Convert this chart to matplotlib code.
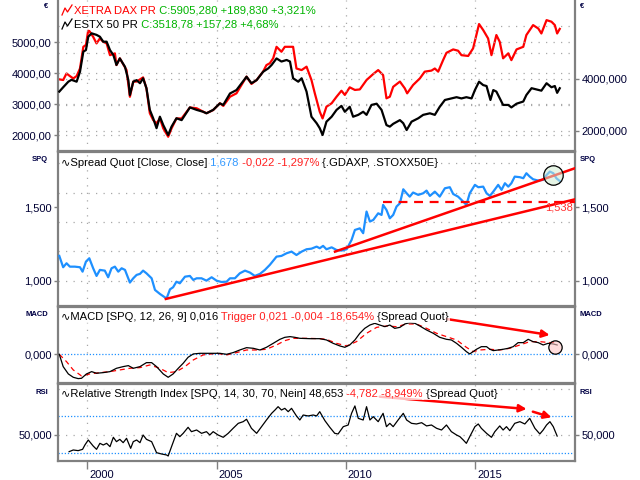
import matplotlib
matplotlib.use('Agg')
import matplotlib.pyplot as plt
from matplotlib.lines import Line2D
from matplotlib.ticker import FixedLocator, FuncFormatter
from matplotlib.transforms import ScaledTranslation

plt.rcParams['font.family'] = ['Liberation Sans', 'DejaVu Sans']
plt.rcParams['font.size'] = 8

# ---- data (x in decimal years) ----
estx_x = [1998.92, 1999.07, 1999.27, 1999.39, 1999.59, 1999.72, 1999.85, 1999.95, 2000.04, 2000.17,
          2000.36, 2000.49, 2000.62, 2000.75, 2000.88, 2001.01, 2001.13, 2001.26, 2001.46, 2001.59,
          2001.65, 2001.78, 2001.91, 2002.04, 2002.16, 2002.29, 2002.42, 2002.55, 2002.68, 2002.81,
          2002.94, 2003.13, 2003.26, 2003.45, 2003.65, 2003.97, 2004.23, 2004.48, 2004.61, 2004.87,
          2005.13, 2005.26, 2005.52, 2005.77, 2006.16, 2006.35, 2006.55, 2006.80, 2007.00, 2007.13,
          2007.32, 2007.51, 2007.71, 2007.84, 2007.96, 2008.16, 2008.29, 2008.48, 2008.67, 2008.87,
          2008.99, 2009.10, 2009.25, 2009.45, 2009.64, 2009.83, 2009.96, 2010.15, 2010.28, 2010.48,
          2010.67, 2010.80, 2010.99, 2011.19, 2011.38, 2011.57, 2011.70, 2011.83, 2012.09, 2012.22,
          2012.35, 2012.54, 2012.80, 2012.99, 2013.25, 2013.44, 2013.63, 2013.83, 2014.08, 2014.28,
          2014.47, 2014.66, 2014.86, 2014.99, 2015.15, 2015.31, 2015.44, 2015.59, 2015.70, 2015.82,
          2016.08, 2016.28, 2016.40, 2016.60, 2016.86, 2016.98, 2017.18, 2017.37, 2017.56, 2017.76,
          2017.95, 2018.08, 2018.17, 2018.27]
estx_y = [3410, 3550, 3730, 3790, 3730, 4050, 4700, 4750, 5180, 5290,
          5240, 5180, 5020, 5020, 4750, 4590, 4270, 4480, 4210, 3780,
          3300, 3730, 3780, 3680, 3840, 3520, 2820, 2550, 2230, 2600,
          2330, 2010, 2280, 2550, 2490, 2900, 2820, 2760, 2710, 2820,
          3030, 2980, 3350, 3460, 3890, 3680, 3780, 4050, 4160, 4270,
          4480, 4380, 4430, 4380, 3840, 3730, 3840, 3410, 2600, 2390,
          2230, 2010, 2440, 2600, 2820, 2950, 2760, 2920, 2600, 2660,
          2760, 2660, 2980, 3020, 2820, 2330, 2280, 2370, 2490, 2390,
          2170, 2440, 2550, 2660, 2710, 2660, 2920, 3140, 3190, 3230,
          3190, 3230, 3190, 3460, 3730, 3620, 3590, 3140, 3460, 3410,
          2980, 2980, 2900, 3020, 3090, 3300, 3520, 3480, 3440, 3680,
          3550, 3590, 3370, 3519]

dax_x = [1998.92, 1999.07, 1999.20, 1999.33, 1999.46, 1999.59, 1999.72, 1999.85, 1999.95, 2000.04,
         2000.10, 2000.23, 2000.36, 2000.49, 2000.62, 2000.75, 2000.88, 2001.07, 2001.13, 2001.26,
         2001.52, 2001.65, 2001.78, 2001.91, 2002.16, 2002.29, 2002.42, 2002.55, 2002.68, 2002.81,
         2002.94, 2003.13, 2003.26, 2003.45, 2003.65, 2003.97, 2004.23, 2004.48, 2004.61, 2004.87,
         2005.13, 2005.26, 2005.52, 2005.77, 2006.16, 2006.35, 2006.55, 2006.80, 2006.93, 2007.06,
         2007.19, 2007.32, 2007.51, 2007.64, 2007.84, 2007.96, 2008.09, 2008.29, 2008.48, 2008.67,
         2008.80, 2008.99, 2009.10, 2009.25, 2009.45, 2009.64, 2009.83, 2009.96, 2010.15, 2010.35,
         2010.54, 2010.80, 2011.06, 2011.25, 2011.44, 2011.57, 2011.70, 2011.83, 2012.09, 2012.28,
         2012.37, 2012.60, 2012.86, 2013.05, 2013.31, 2013.44, 2013.57, 2013.76, 2013.89, 2014.15,
         2014.34, 2014.47, 2014.73, 2014.92, 2015.15, 2015.31, 2015.50, 2015.63, 2015.82, 2015.95,
         2016.08, 2016.28, 2016.40, 2016.60, 2016.86, 2016.98, 2017.24, 2017.44, 2017.56, 2017.76,
         2017.95, 2018.08, 2018.17, 2018.27]
dax_y = [3975, 3950, 4200, 4100, 4010, 4100, 4390, 5220, 5290, 5860,
         5800, 5600, 5350, 5540, 5410, 5350, 4900, 4970, 4520, 4780,
         4330, 3310, 3890, 3890, 4050, 3630, 2680, 2420, 2290, 2480,
         2100, 1780, 2100, 2480, 2480, 2900, 2870, 2740, 2680, 2800,
         3060, 2960, 3310, 3440, 4080, 3800, 3950, 4270, 4520, 4590,
         4780, 5220, 5030, 5220, 5220, 5220, 4390, 4330, 4460, 3950,
         3440, 2740, 2480, 2930, 3060, 3310, 3540, 3380, 3670, 3570,
         3590, 3950, 4180, 4330, 4140, 3250, 3310, 3690, 3890, 3630,
         3440, 3760, 4010, 4270, 4310, 4390, 4270, 4710, 4990, 5120,
         5070, 4900, 4870, 5160, 6090, 5860, 5540, 4900, 5670, 5410,
         4780, 4970, 4710, 5120, 5220, 5670, 6050, 5920, 5730, 6240,
         6180, 6050, 5730, 5905]

spq_x = [1998.92, 1999.07, 1999.20, 1999.33, 1999.52, 1999.72, 1999.82, 1999.95, 2000.08, 2000.23,
         2000.36, 2000.49, 2000.68, 2000.81, 2000.94, 2001.07, 2001.20, 2001.33, 2001.46, 2001.65,
         2001.78, 2001.91, 2002.04, 2002.16, 2002.29, 2002.49, 2002.62, 2002.81, 2003.00, 2003.07,
         2003.20, 2003.32, 2003.45, 2003.58, 2003.78, 2003.97, 2004.10, 2004.23, 2004.42, 2004.61,
         2004.81, 2005.00, 2005.19, 2005.39, 2005.52, 2005.71, 2005.90, 2006.10, 2006.29, 2006.48,
         2006.68, 2006.87, 2007.06, 2007.32, 2007.51, 2007.71, 2007.90, 2008.09, 2008.29, 2008.48,
         2008.67, 2008.87, 2008.99, 2009.12, 2009.25, 2009.45, 2009.64, 2009.83, 2010.03, 2010.22,
         2010.35, 2010.54, 2010.67, 2010.80, 2010.93, 2011.06, 2011.25, 2011.38, 2011.44, 2011.57,
         2011.70, 2011.83, 2011.96, 2012.09, 2012.22, 2012.35, 2012.47, 2012.60, 2012.80, 2012.99,
         2013.12, 2013.25, 2013.44, 2013.63, 2013.83, 2014.02, 2014.15, 2014.34, 2014.47, 2014.60,
         2014.66, 2014.79, 2014.99, 2015.12, 2015.31, 2015.44, 2015.57, 2015.70, 2015.89, 2016.02,
         2016.15, 2016.28, 2016.40, 2016.53, 2016.73, 2016.86, 2016.98, 2017.11, 2017.24, 2017.44,
         2017.63, 2017.76, 2017.89, 2018.02, 2018.14, 2018.27]
spq_y = [1.170, 1.093, 1.120, 1.097, 1.097, 1.093, 1.063, 1.131, 1.154, 1.086,
         1.034, 1.075, 1.070, 1.025, 1.086, 1.097, 1.063, 1.086, 1.075, 0.989,
         1.018, 1.041, 1.048, 1.070, 1.052, 1.018, 0.939, 0.912, 0.889, 0.882,
         0.943, 0.957, 0.995, 0.984, 1.029, 1.034, 1.007, 1.018, 1.018, 1.002,
         1.025, 1.002, 0.993, 0.995, 1.018, 1.018, 1.052, 1.070, 1.057, 1.034,
         1.048, 1.075, 1.109, 1.165, 1.170, 1.188, 1.199, 1.176, 1.199, 1.215,
         1.219, 1.233, 1.222, 1.238, 1.215, 1.228, 1.210, 1.206, 1.215, 1.278,
         1.346, 1.357, 1.324, 1.471, 1.403, 1.414, 1.459, 1.448, 1.516, 1.482,
         1.425, 1.448, 1.505, 1.527, 1.622, 1.595, 1.572, 1.600, 1.584, 1.595,
         1.613, 1.577, 1.606, 1.572, 1.629, 1.636, 1.590, 1.572, 1.550, 1.527,
         1.516, 1.595, 1.652, 1.636, 1.640, 1.595, 1.577, 1.606, 1.652, 1.618,
         1.663, 1.640, 1.663, 1.708, 1.704, 1.697, 1.731, 1.708, 1.690, 1.681,
         1.686, 1.719, 1.742, 1.731, 1.697, 1.678]

macd_x = [1998.92, 1999.07, 1999.27, 1999.46, 1999.65, 1999.78, 1999.97, 2000.17, 2000.36, 2000.62,
          2000.88, 2001.13, 2001.39, 2001.59, 2001.78, 2002.04, 2002.29, 2002.49, 2002.68, 2002.94,
          2003.13, 2003.32, 2003.52, 2003.71, 2003.90, 2004.10, 2004.36, 2004.74, 2005.13, 2005.39,
          2005.64, 2005.90, 2006.16, 2006.42, 2006.68, 2006.93, 2007.19, 2007.45, 2007.64, 2007.84,
          2008.03, 2008.22, 2008.61, 2008.99, 2009.25, 2009.51, 2009.77, 2009.96, 2010.15, 2010.35,
          2010.54, 2010.73, 2010.93, 2011.12, 2011.31, 2011.51, 2011.70, 2011.89, 2012.09, 2012.28,
          2012.47, 2012.67, 2012.86, 2013.12, 2013.38, 2013.63, 2013.89, 2014.08, 2014.28, 2014.47,
          2014.66, 2014.79, 2014.92, 2015.05, 2015.24, 2015.44, 2015.57, 2015.70, 2015.89, 2016.08,
          2016.28, 2016.47, 2016.66, 2016.86, 2017.05, 2017.24, 2017.44, 2017.63, 2017.82, 2018.02,
          2018.17]
macd_y = [0.0, -0.0211, -0.0337, -0.0394, -0.0417, -0.0411, -0.0337, -0.0297, -0.0325, -0.0314,
          -0.0297, -0.0240, -0.0211, -0.0194, -0.0240, -0.0211, -0.0143, -0.0143, -0.0211, -0.0337,
          -0.0394, -0.0337, -0.0240, -0.0154, -0.0051, 0.0006, 0.0017, 0.0017, 0.0017, 0.0,
          0.0029, 0.0074, 0.0114, 0.0103, 0.0074, 0.0120, 0.0188, 0.0257, 0.0291, 0.0303,
          0.0291, 0.0274, 0.0268, 0.0268, 0.0246, 0.0188, 0.0143, 0.0120, 0.0160, 0.0246,
          0.0360, 0.0445, 0.0502, 0.0531, 0.0502, 0.0474, 0.0502, 0.0445, 0.0462, 0.0520,
          0.0542, 0.0531, 0.0485, 0.0417, 0.0360, 0.0291, 0.0257, 0.0246, 0.0188, 0.0120,
          0.0046, 0.0006, 0.0046, 0.0086, 0.0131, 0.0131, 0.0086, 0.0063, 0.0074, 0.0086,
          0.0103, 0.0131, 0.0200, 0.0200, 0.0257, 0.0217, 0.0200, 0.0160, 0.0188, 0.0177,
          0.0160]

trig_x = [1998.92, 1999.20, 1999.46, 1999.78, 2000.10, 2000.49, 2000.88, 2001.26, 2001.65, 2002.04,
          2002.42, 2002.81, 2003.13, 2003.45, 2003.78, 2004.10, 2004.48, 2005.00, 2005.39, 2005.77,
          2006.16, 2006.55, 2006.93, 2007.32, 2007.64, 2007.96, 2008.48, 2008.99, 2009.25, 2009.64,
          2010.03, 2010.41, 2010.80, 2011.19, 2011.57, 2011.96, 2012.35, 2012.73, 2013.12, 2013.51,
          2013.89, 2014.28, 2014.66, 2014.92, 2015.18, 2015.57, 2015.95, 2016.34, 2016.73, 2017.11,
          2017.50, 2017.89, 2018.17]
trig_y = [0.0, -0.0126, -0.0268, -0.0371, -0.0337, -0.0314, -0.0297, -0.0268, -0.0240, -0.0228,
          -0.0183, -0.0240, -0.0314, -0.0297, -0.0211, -0.0097, -0.0011, 0.0017, -0.0011, 0.0029,
          0.0074, 0.0074, 0.0086, 0.0160, 0.0234, 0.0274, 0.0274, 0.0268, 0.0257, 0.0188,
          0.0143, 0.0217, 0.0360, 0.0462, 0.0485, 0.0474, 0.0520, 0.0520, 0.0445, 0.0360,
          0.0303, 0.0246, 0.0120, 0.0046, 0.0074, 0.0086, 0.0074, 0.0103, 0.0160, 0.0217,
          0.0217, 0.0200, 0.0210]

rsi_x = [1999.30, 1999.46, 1999.65, 1999.82, 1999.91, 2000.04, 2000.23, 2000.36, 2000.49, 2000.62,
         2000.75, 2000.88, 2001.01, 2001.13, 2001.26, 2001.39, 2001.52, 2001.68, 2001.78, 2001.91,
         2002.04, 2002.16, 2002.29, 2002.49, 2002.68, 2002.87, 2003.07, 2003.13, 2003.26, 2003.45,
         2003.58, 2003.71, 2003.90, 2004.03, 2004.23, 2004.42, 2004.61, 2004.74, 2004.87, 2005.06,
         2005.26, 2005.45, 2005.64, 2005.84, 2006.03, 2006.16, 2006.35, 2006.55, 2006.74, 2006.93,
         2007.13, 2007.26, 2007.38, 2007.51, 2007.64, 2007.77, 2007.90, 2008.09, 2008.22, 2008.35,
         2008.54, 2008.74, 2008.87, 2008.99, 2009.19, 2009.38, 2009.57, 2009.70, 2009.90, 2010.09,
         2010.22, 2010.35, 2010.48, 2010.67, 2010.80, 2010.93, 2011.06, 2011.25, 2011.44, 2011.57,
         2011.70, 2011.83, 2012.02, 2012.22, 2012.35, 2012.54, 2012.73, 2012.93, 2013.12, 2013.31,
         2013.51, 2013.70, 2013.89, 2014.08, 2014.28, 2014.41, 2014.54, 2014.66, 2014.79, 2014.99,
         2015.12, 2015.24, 2015.44, 2015.63, 2015.76, 2015.95, 2016.08, 2016.21, 2016.34, 2016.53,
         2016.73, 2016.92, 2017.11, 2017.31, 2017.50, 2017.63, 2017.76, 2017.89, 2018.02, 2018.17]
rsi_y = [31.8, 33.6, 32.9, 34.3, 39.0, 44.4, 37.9, 34.3, 40.8, 39.0,
         40.8, 37.2, 47.3, 42.6, 45.1, 41.5, 46.2, 35.4, 42.6, 44.4,
         41.5, 49.8, 45.1, 42.6, 30.7, 29.3, 28.2, 27.1, 37.2, 51.6,
         48.0, 51.6, 58.1, 53.4, 55.2, 51.6, 53.4, 49.8, 53.4, 49.8,
         47.3, 51.6, 57.0, 62.4, 64.2, 66.8, 57.0, 51.6, 58.8, 66.0,
         73.2, 76.8, 80.4, 76.8, 78.6, 75.0, 78.6, 70.4, 66.0, 71.4,
         70.4, 71.4, 70.4, 75.0, 65.3, 58.1, 51.6, 50.9, 58.8, 60.6,
         73.2, 81.2, 67.8, 66.0, 80.4, 66.0, 69.6, 64.2, 73.2, 58.8,
         62.4, 58.8, 66.0, 73.2, 66.0, 62.4, 61.7, 63.1, 59.6, 60.6,
         57.0, 55.2, 60.6, 53.4, 49.8, 48.0, 44.4, 40.8, 48.0, 58.8,
         61.7, 57.0, 51.6, 47.3, 53.4, 59.6, 55.2, 58.8, 54.5, 62.4,
         64.2, 61.7, 67.8, 57.0, 50.9, 55.2, 60.6, 64.2, 58.8, 48.65]

year_ticks = [2000, 2005, 2010, 2015]

# drawings on the chart (trend lines, marks)
trend_low = ([2003.04, 2018.86], [0.878, 1.554])
trend_high = ([2009.58, 2018.86], [1.199, 1.765])
support_level = 1.538
support_start = 2011.44
macd_arrow = ((2013.90, 0.0605), (2017.88, 0.0331))
rsi_arrows = [((2011.31, 91.2), (2016.99, 77.9)), ((2017.23, 75.0), (2017.95, 68.9))]

W, H = 640, 480
XMIN, XMAX = 1998.87, 2018.86
GRAY = '#808080'
GRID = '#A8A8A8'
LBL = '#000033'
BLUE = '#1E90FF'
GREEN = '#00B400'
TICK_FS = 8
TEXT_FS = 8.1

fig = plt.figure(figsize=(6.4, 4.8), dpi=100)
fig.patch.set_facecolor('white')


def px_axes(top, bottom):
    return fig.add_axes([58 / W, 1 - bottom / H, 517 / W, (bottom - top) / H])


def comma(dec):
    return FuncFormatter(lambda v, p: f'{v:.{dec}f}'.replace('.', ','))


def style(ax, yticks, dec, top_spine=True):
    ax.set_xlim(XMIN, XMAX)
    for s in ax.spines.values():
        s.set_color(GRAY)
        s.set_linewidth(1.6)
    ax.spines['top'].set_visible(top_spine)
    ax.yaxis.set_major_locator(FixedLocator(yticks))
    ax.yaxis.set_major_formatter(comma(dec))
    ax.tick_params(axis='y', direction='out', length=3, width=1, color=GRAY,
                   labelcolor=LBL, labelsize=TICK_FS, pad=1.5)
    ax.tick_params(axis='x', bottom=False, labelbottom=False)
    for yr in year_ticks:
        ax.axvline(yr, color=GRID, lw=0.9, ls=(0, (1, 5)), zorder=0)


ax1 = px_axes(0, 151)
ax2 = px_axes(152, 306)
ax3 = px_axes(307, 383)
ax4 = px_axes(384, 461)

# ---- panel 1: indices ----
style(ax1, [2000, 3000, 4000, 5000], 2, top_spine=False)
ax1.set_ylim(1494, 6365)
ax1r = ax1.twinx()
ax1r.set_ylim(1235, 7010)
ax1r.yaxis.set_major_locator(FixedLocator([2000, 4000]))
ax1r.yaxis.set_major_formatter(comma(3))
ax1r.tick_params(axis='y', direction='out', length=3, width=1, color=GRAY,
                 labelcolor=LBL, labelsize=TICK_FS, pad=1.5)
for s in ax1r.spines.values():
    s.set_visible(False)
for v in [2000, 3000, 4000, 5000]:
    ax1.axhline(v, color=GRID, lw=0.9, ls=(0, (1, 5)), zorder=0)
for v in [2000, 3000, 4000, 5000, 6000]:
    ax1r.axhline(v, color=GRID, lw=0.9, ls=(0, (1, 5)), zorder=0)
ax1r.plot(dax_x, dax_y, color='#FF0000', lw=1.6, zorder=3)
ax1.plot(estx_x, estx_y, color='black', lw=1.6, zorder=3)
ax1.set_zorder(ax1r.get_zorder() + 1)
ax1.patch.set_visible(False)

# ---- panel 2: spread ----
style(ax2, [1.0, 1.5], 3)
ax2.set_ylim(0.830, 1.875)
ax2.tick_params(axis='y', right=True, labelright=True)
for v in [1.0, 1.2, 1.4, 1.6, 1.8]:
    ax2.axhline(v, color=GRID, lw=0.9, ls=(0, (1, 5)), zorder=0)
ax2.plot(spq_x, spq_y, color=BLUE, lw=1.6, zorder=3)
ax2.plot(*trend_low, color='#FF0000', lw=1.8, zorder=4)
ax2.plot(*trend_high, color='#FF0000', lw=1.8, zorder=4)
ax2.plot([support_start, XMAX], [support_level, support_level], color='#FF0000',
         lw=1.6, ls=(0, (4, 3)), zorder=4)
ax2.text(2018.78, support_level - 0.006, f'{support_level:.3f}'.replace('.', ','),
         color='#FF3030', ha='right', va='top', fontsize=TICK_FS, zorder=5)
ax2.plot([2018.01], [1.719], marker='o', ms=14, mfc=(0.82, 0.92, 0.82, 0.55),
         mec='black', mew=0.9, zorder=6)

# ---- panel 3: MACD ----
style(ax3, [0.0], 3)
ax3.set_ylim(-0.0492, 0.0811)
ax3.tick_params(axis='y', right=True, labelright=True)
ax3.axhline(0, color=BLUE, lw=0.9, ls=(0, (1, 1.5)), zorder=1)
ax3.plot(trig_x, trig_y, color='#FF0000', lw=0.9, ls=(0, (4, 3)), zorder=3)
ax3.plot(macd_x, macd_y, color='black', lw=0.9, zorder=3)
ax3.annotate('', xy=macd_arrow[1], xytext=macd_arrow[0],
             arrowprops=dict(arrowstyle='-|>', color='#FF0000', lw=1.8,
                             mutation_scale=11, shrinkA=0, shrinkB=0), zorder=5)
ax3.plot([2018.08], [0.0130], marker='o', ms=9.6, mfc=(1, 0.78, 0.78, 0.6),
         mec='black', mew=0.9, zorder=6)

# ---- panel 4: RSI ----
style(ax4, [50], 3)
ax4.set_ylim(21.7, 104.9)
ax4.tick_params(axis='y', right=True, labelright=True)
for v in [50, 100]:
    ax4.axhline(v, color=GRID, lw=0.9, ls=(0, (1, 5)), zorder=0)
for v in [30, 70]:
    ax4.axhline(v, color=BLUE, lw=0.9, ls=(0, (1, 1.5)), zorder=1)
ax4.plot(rsi_x, rsi_y, color='black', lw=0.9, zorder=3)
for a, b in rsi_arrows:
    ax4.annotate('', xy=b, xytext=a,
                 arrowprops=dict(arrowstyle='-|>', color='#FF0000', lw=1.8,
                                 mutation_scale=11, shrinkA=0, shrinkB=0), zorder=5)

ax4.xaxis.set_major_locator(FixedLocator(year_ticks))
ax4.xaxis.set_major_formatter(FuncFormatter(lambda v, p: f'{v:.0f}'))
ax4.tick_params(axis='x', bottom=True, labelbottom=True, direction='out', length=6,
                width=1, color=GRAY, labelcolor=LBL, labelsize=TICK_FS, pad=0.5)
for lab in ax4.get_xticklabels():
    lab.set_ha('left')
    lab.set_transform(lab.get_transform() + ScaledTranslation(2 / 100, 0, fig.dpi_scale_trans))

# ---- unit labels ----
for txt, y in [('€', 7), ('SPQ', 160), ('MACD', 315), ('RSI', 392)]:
    fig.text(48 / W, 1 - y / H, txt, ha='right', va='center', fontsize=5.5,
             color='#000044', fontweight='bold')
    fig.text(580 / W, 1 - y / H, txt, ha='left', va='center', fontsize=5.5,
             color='#000044', fontweight='bold')

# ---- legend texts ----
renderer = fig.canvas.get_renderer()


def rich(x, y, parts, size=TEXT_FS):
    for s, c in parts:
        t = fig.text(x / W, 1 - y / H, s, color=c, ha='left', va='center', fontsize=size,
                     bbox=dict(fc='white', ec='none', alpha=0.75, boxstyle='square,pad=0.05'),
                     zorder=10)
        x += t.get_window_extent(renderer).width


for (xs, ys), c in [(([62, 65, 67.5, 72], [15, 8, 12, 5]), '#FF0000'),
                    (([62, 65, 67.5, 72], [29, 22, 26, 19]), 'black')]:
    fig.add_artist(Line2D([v / W for v in xs], [1 - v / H for v in ys], color=c, lw=0.9,
                          transform=fig.transFigure, zorder=11))

rich(74, 10.5, [('XETRA DAX PR', '#FF0000'), (' C:5905,280 +189,830 +3,321%', GREEN)])
rich(74, 24.5, [('ESTX 50 PR', 'black'), (' C:3518,78 +157,28 +4,68%', GREEN)])
rich(61, 162.5, [('∿Spread Quot [Close, Close]', 'black'), (' 1,678', '#3399FF'),
                 (' -0,022 -1,297%', '#FF2020'), (' {.GDAXP, .STOXX50E}', 'black')])
rich(61, 317, [('∿MACD [SPQ, 12, 26, 9] 0,016', 'black'),
               (' Trigger 0,021 -0,004 -18,654%', '#FF2020'), (' {Spread Quot}', 'black')])
rich(61, 394, [('∿Relative Strength Index [SPQ, 14, 30, 70, Nein] 48,653', 'black'),
               (' -4,782 -8,949%', '#FF2020'), (' {Spread Quot}', 'black')])

fig.savefig('out.png', dpi=100, facecolor='white')
